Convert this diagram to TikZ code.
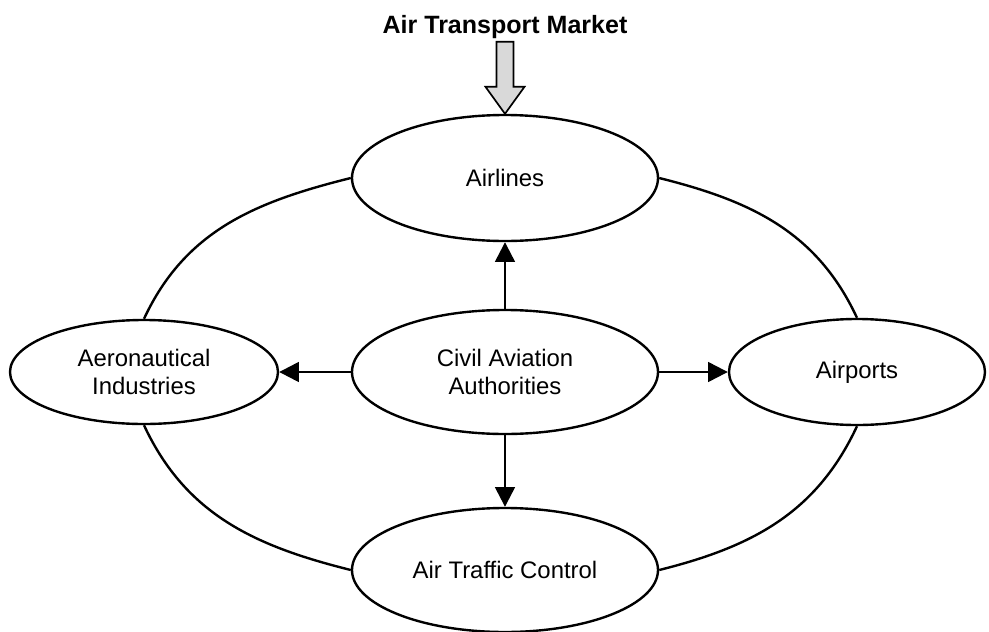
\documentclass[tikz,border=0pt]{standalone}
\usepackage{fontspec}
\setmainfont{Liberation Sans}
\usetikzlibrary{shapes.geometric,arrows.meta}

\begin{document}
\begin{tikzpicture}[line width=1.7pt, font=\fontsize{17}{20}\selectfont,
    actor/.style = {draw, ellipse, fill=white, align=center, inner sep=0pt},
    rule/.style = {-{Triangle[length=14pt,width=14pt]}}]
    \useasboundingbox (-12.625,-6.475) rectangle (12.1,9.3);
    \node[actor, minimum width=7.65cm, minimum height=3.1cm] (caa) at (0,0) {Civil Aviation\\Authorities};
    \node[actor, minimum width=7.65cm, minimum height=3.15cm] (airlines) [node distance=4.85cm, above of=caa] {Airlines};
    \node[actor, minimum width=7.65cm, minimum height=3.1cm] (atc) [node distance=4.95cm, below of=caa] {Air Traffic Control};
    \node[actor, minimum width=6.7cm, minimum height=2.6cm] (aero) [node distance=9.025cm, left of=caa] {Aeronautical\\Industries};
    \node[actor, minimum width=6.4cm, minimum height=2.65cm] (airports) [node distance=8.8cm, right of=caa] {Airports};
    \node[font=\bfseries\fontsize{17.8}{21}\selectfont, anchor=base] (market) at (0,8.475) {Air Transport Market};
    % market pressure on the airlines
    \draw[line width=1.2pt, fill=gray!30] (airlines.north) -- ++(-0.4875,0.675) -- ++(0.275,0) -- ++(0,1.125)
        -- ++(0.425,0) -- ++(0,-1.125) -- ++(0.275,0) -- cycle;
    \path[rule,draw]
        (caa) edge (airlines)
        (caa) edge (aero)
        (caa) edge (airports)
        (caa) edge (atc);
    \draw (aero.north) to[out=65, in=194] (airlines.west)
          (airlines.east) to[out=-14, in=115] (airports.north)
          (airports.south) to[out=-115, in=14] (atc.east)
          (atc.west) to[out=166, in=-65] (aero.south);
\end{tikzpicture}
\end{document}
